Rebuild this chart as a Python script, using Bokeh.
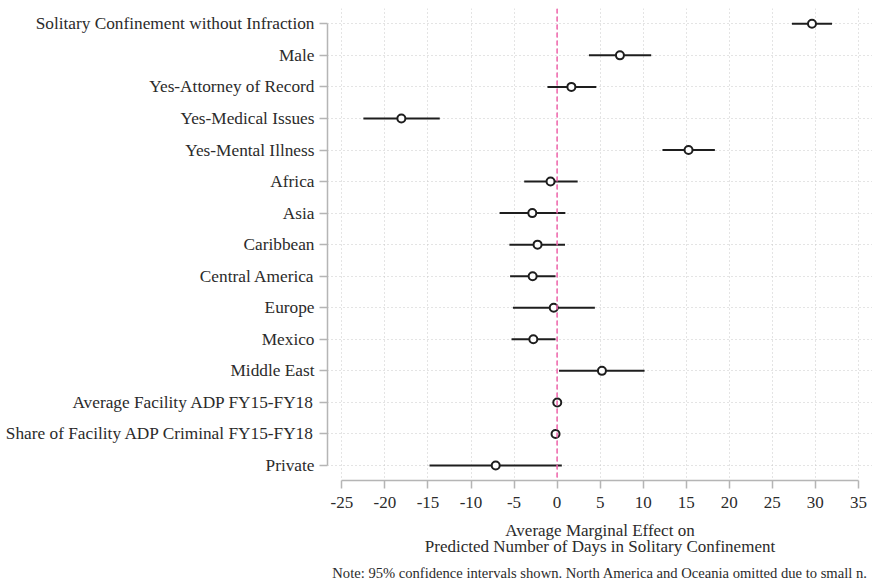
from bokeh.plotting import figure
from bokeh.models import Range1d, FixedTicker, Span, Title, ColumnDataSource
from bokeh.embed import file_html
from bokeh.resources import INLINE

labels = [
    "Solitary Confinement without Infraction",
    "Male",
    "Yes-Attorney of Record",
    "Yes-Medical Issues",
    "Yes-Mental Illness",
    "Africa",
    "Asia",
    "Caribbean",
    "Central America",
    "Europe",
    "Mexico",
    "Middle East",
    "Average Facility ADP FY15-FY18",
    "Share of Facility ADP Criminal FY15-FY18",
    "Private",
]
estimate = [29.61, 7.30, 1.66, -18.09, 15.27, -0.76, -2.88, -2.27, -2.84, -0.39, -2.76, 5.21, 0.02, -0.18, -7.13]
ci_low = [27.28, 3.70, -1.12, -22.50, 12.24, -3.82, -6.68, -5.54, -5.46, -5.13, -5.29, 0.22, -0.08, -0.30, -14.82]
ci_high = [31.94, 10.93, 4.56, -13.63, 18.33, 2.39, 0.96, 0.92, -0.18, 4.39, -0.18, 10.16, 0.12, -0.06, 0.55]
x_ticks = [-25, -20, -15, -10, -5, 0, 5, 10, 15, 20, 25, 30, 35]
x_title = "Average Marginal Effect on\nPredicted Number of Days in Solitary Confinement"
note = "Note: 95% confidence intervals shown. North America and Oceania omitted due to small n."

rows = list(range(1, len(labels) + 1))
src = ColumnDataSource(dict(y=rows, est=estimate, lo=ci_low, hi=ci_high))

FONT = "Liberation Serif"
TXT = "#2b2b2b"
AX = "#b5b5b5"

p = figure(width=872, height=585,
           x_range=Range1d(-26.67, 36.64), y_range=Range1d(15.475, 0.515),
           min_border_left=327, min_border_right=0, min_border_top=8, min_border_bottom=105,
           outline_line_color=None, toolbar_location=None, output_backend="svg",
           background_fill_color="white", border_fill_color="white")

# grids
p.xgrid.ticker = FixedTicker(ticks=x_ticks)
p.ygrid.ticker = FixedTicker(ticks=rows)
for g in (p.xgrid, p.ygrid):
    g.grid_line_color = "#c8c8c8"
    g.grid_line_dash = "1 3"
    g.grid_line_width = 1

# zero line
p.add_layout(Span(location=0, dimension="height", line_color="#f062aa",
                  line_dash="5 3", line_width=1.5))

# CIs and points
p.segment(x0="lo", y0="y", x1="hi", y1="y", source=src, line_color="#1e1e1e", line_width=2)
p.scatter(x="est", y="y", source=src, marker="circle", size=8,
          fill_color="white", line_color="#1e1e1e", line_width=2)

# x axis
xa = p.xaxis[0]
xa.ticker = FixedTicker(ticks=x_ticks)
xa.major_label_overrides = {t: str(t) for t in x_ticks}
xa.bounds = (x_ticks[0], x_ticks[-1])
xa.axis_label = x_title
xa.axis_label_text_font = FONT
xa.axis_label_text_font_size = "17px"
xa.axis_label_text_font_style = "normal"
xa.axis_label_text_color = TXT
xa.axis_label_text_line_height = 0.85
xa.axis_label_standoff = 10

# y axis
ya = p.yaxis[0]
ya.ticker = FixedTicker(ticks=rows)
ya.major_label_overrides = {r: l for r, l in zip(rows, labels)}
ya.bounds = (1, len(labels))

for a in (xa, ya):
    a.axis_line_color = AX
    a.axis_line_width = 1.5
    a.major_tick_line_color = AX
    a.major_tick_line_width = 1.5
    a.major_tick_out = 8
    a.major_tick_in = 0
    a.minor_tick_line_color = None
    a.major_label_text_font = FONT
    a.major_label_text_color = TXT
xa.major_label_text_font_size = "17px"
ya.major_label_text_font_size = "17.3px"
xa.major_label_standoff = 8
ya.major_label_standoff = 5

p.add_layout(Title(text=note, align="center", text_font=FONT, text_font_size="14.6px",
                   text_font_style="normal", text_color=TXT, standoff=9), "below")

open("out.html", "w").write(file_html(p, INLINE))
